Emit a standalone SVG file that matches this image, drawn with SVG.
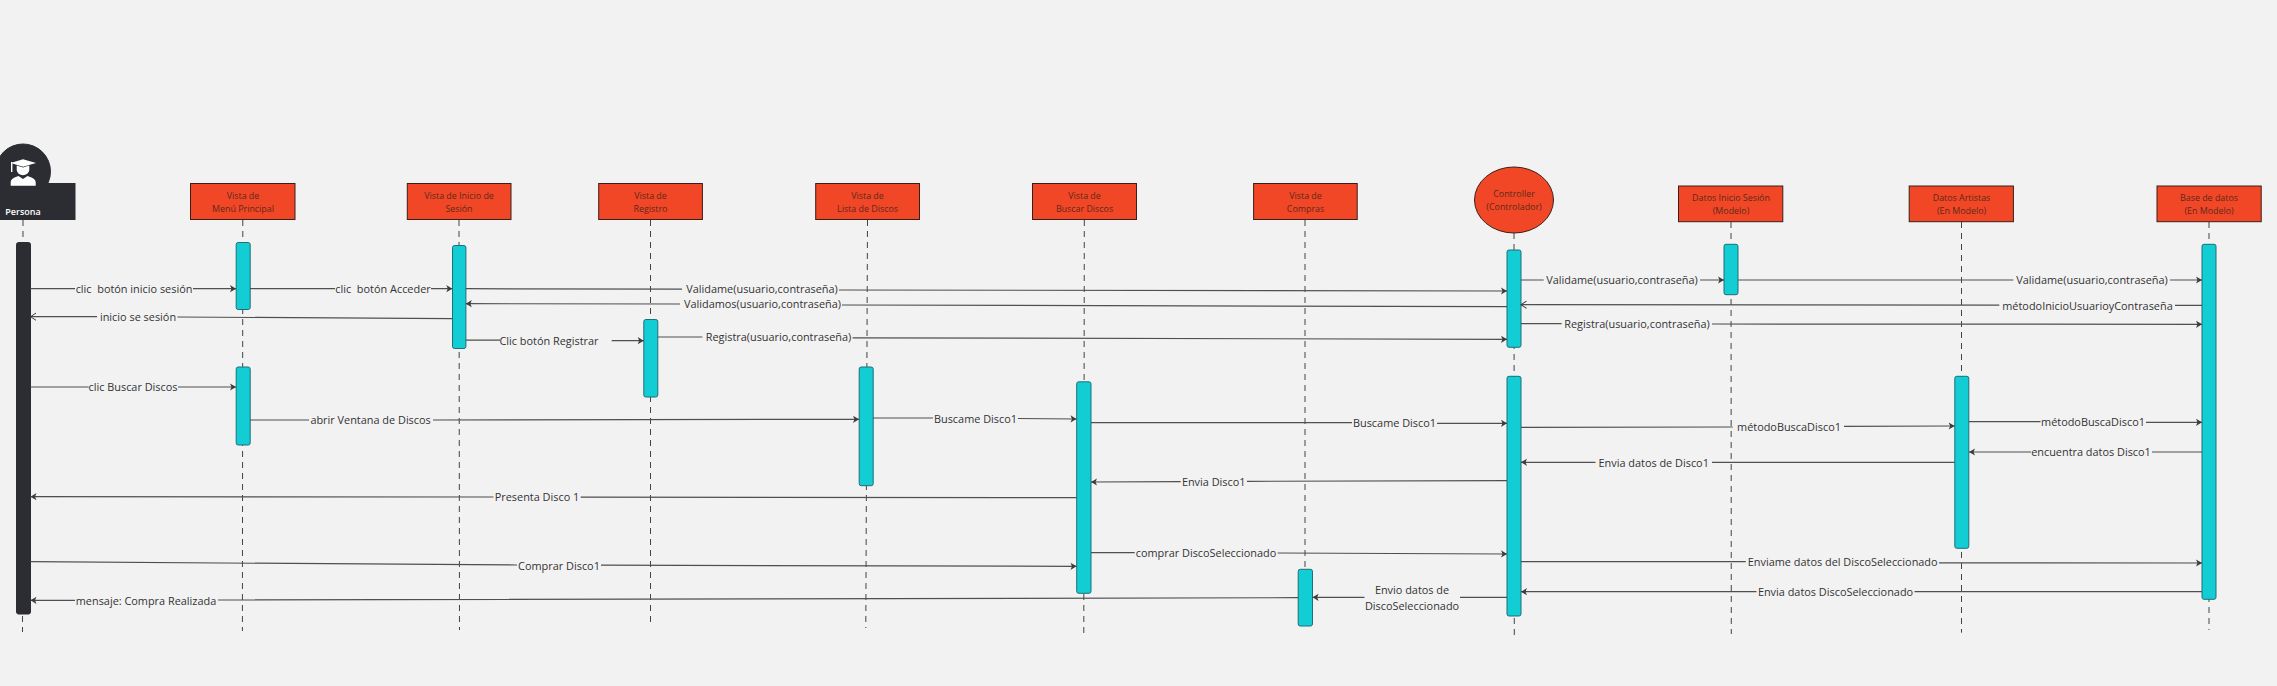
<svg xmlns="http://www.w3.org/2000/svg" width="2277" height="686" viewBox="0 0 2277 686">
<style>
text{font-family:"Open Sans","Noto Sans","Liberation Sans",sans-serif}
.bg{fill:#f2f2f2}
.box{fill:#f24726;stroke:#3a1f18;stroke-width:1}
.nt{font-size:8.9px;fill:#5a2a1c;text-anchor:middle}
.act{fill:#12cdd4;stroke:#1f6f78;stroke-width:1}
.dark{fill:#2b2d33;stroke:#2b2d33}
.life{stroke:#444;stroke-width:1;stroke-dasharray:6 5;fill:none}
.msg{fill:none;stroke:#4f4f4f;stroke-width:1.2}
.to{marker-end:url(#solid)}
.open{marker-end:url(#openh)}
.lb{font-size:10.9px;fill:#333;text-anchor:middle}
</style>
<defs>
<marker id="solid" markerUnits="userSpaceOnUse" markerWidth="8" markerHeight="10" viewBox="0 -5 8 10" refX="6.5" refY="0" orient="auto"><path d="M0.5,-3.6 L6.5,0 L0.5,3.6 L2,0Z" fill="#3c3c3c"/></marker>
<marker id="openh" markerUnits="userSpaceOnUse" markerWidth="8" markerHeight="10" viewBox="0 -5 8 10" refX="6.5" refY="0" orient="auto"><path d="M1,-3.6 L6.5,0 L1,3.6" fill="none" stroke="#3c3c3c" stroke-width="1"/></marker>
</defs>
<rect class="bg" x="0" y="0" width="2277" height="686"/>

<g id="persona">
<line class="life" x1="23" y1="220" x2="22.5" y2="632"/>
<rect class="dark" x="-2" y="183.5" width="77" height="36"/>
<circle class="dark" cx="23" cy="171.5" r="27.5"/>
<path fill="#fff" d="M23,159.3 L36,163 L23,166.8 L10.7,163Z"/>
<path fill="#fff" d="M16.7,165.5 L23,167.6 L29.3,165.5 L29.3,169.5 C29.3,173 26,175.2 23,175.2 C20,175.2 16.7,173 16.7,169.5Z"/>
<path fill="#fff" d="M10.7,185.8 L10.7,182 C10.7,179 15,177 18.5,176 L23,179 L27.5,176 C31,177 35.7,179 35.7,182 L35.7,185.8Z"/>
<rect fill="#fff" x="11" y="162" width="1.4" height="10"/>
<text x="23" y="215" font-size="9" font-weight="600" fill="#fff" text-anchor="middle">Persona</text>
<rect class="dark" x="16.5" y="242.5" width="14" height="371.5" rx="2"/>
</g>

<g id="vista-menu">
<line class="life" x1="242.8" y1="220" x2="242.4" y2="631"/>
<rect class="box" x="190.5" y="183.5" width="104.5" height="36"/>
<text class="nt" x="243" y="199">Vista de</text><text class="nt" x="243" y="212">Menú Principal</text>
<rect class="act" x="236.2" y="242.5" width="14" height="67" rx="2"/>
<rect class="act" x="236.2" y="367" width="14" height="78" rx="2"/>
</g>

<g id="vista-inicio">
<line class="life" x1="459" y1="220" x2="459.5" y2="630"/>
<rect class="box" x="407.3" y="183.5" width="103.7" height="36"/>
<text class="nt" x="459" y="199">Vista de Inicio de</text><text class="nt" x="459" y="212">Sesión</text>
<rect class="act" x="452.5" y="245.5" width="13.4" height="103" rx="2"/>
</g>

<g id="vista-registro">
<line class="life" x1="650.5" y1="220" x2="650.5" y2="627"/>
<rect class="box" x="598.7" y="183.5" width="103.7" height="36"/>
<text class="nt" x="650.5" y="199">Vista de</text><text class="nt" x="650.5" y="212">Registro</text>
<rect class="act" x="643.8" y="319.5" width="14" height="77.5" rx="2"/>
</g>

<g id="vista-lista">
<line class="life" x1="867.5" y1="220" x2="865.8" y2="628"/>
<rect class="box" x="815.7" y="183.5" width="103.8" height="36"/>
<text class="nt" x="867.5" y="199">Vista de</text><text class="nt" x="867.5" y="212">Lista de Discos</text>
<rect class="act" x="859.2" y="367" width="14" height="118.7" rx="2"/>
</g>

<g id="vista-buscar">
<line class="life" x1="1084.3" y1="220" x2="1083.8" y2="634"/>
<rect class="box" x="1032.5" y="183.5" width="104" height="36"/>
<text class="nt" x="1084.5" y="199">Vista de</text><text class="nt" x="1084.5" y="212">Buscar Discos</text>
<rect class="act" x="1076.7" y="381.8" width="14.3" height="211.5" rx="2"/>
</g>

<g id="vista-compras">
<line class="life" x1="1305" y1="220" x2="1305" y2="569"/>
<rect class="box" x="1253.6" y="183.5" width="103.6" height="36"/>
<text class="nt" x="1305.5" y="199">Vista de</text><text class="nt" x="1305.5" y="212">Compras</text>
<rect class="act" x="1298.2" y="569.3" width="14.3" height="56.7" rx="2"/>
</g>

<g id="controller">
<line class="life" x1="1514" y1="233" x2="1514.3" y2="640"/>
<ellipse class="box" cx="1514" cy="200" rx="39.5" ry="33"/>
<text class="nt" x="1514" y="197">Controller</text><text class="nt" x="1514" y="210">(Controlador)</text>
<rect class="act" x="1507" y="250" width="14" height="97.3" rx="2"/>
<rect class="act" x="1507" y="376.3" width="14" height="239.7" rx="2"/>
</g>

<g id="datos-inicio">
<line class="life" x1="1731" y1="222" x2="1731.3" y2="634"/>
<rect class="box" x="1678.5" y="186" width="104.3" height="35.7"/>
<text class="nt" x="1731" y="201">Datos Inicio Sesión</text><text class="nt" x="1731" y="214">(Modelo)</text>
<rect class="act" x="1724" y="244.3" width="14" height="50.4" rx="2"/>
</g>

<g id="datos-artistas">
<line class="life" x1="1961.5" y1="222" x2="1961.5" y2="632.7"/>
<rect class="box" x="1909.2" y="186" width="104.2" height="35.7"/>
<text class="nt" x="1961.5" y="201">Datos Artistas</text><text class="nt" x="1961.5" y="214">(En Modelo)</text>
<rect class="act" x="1954.8" y="376.3" width="14" height="172" rx="2"/>
</g>

<g id="base-datos">
<line class="life" x1="2209" y1="222" x2="2209" y2="630"/>
<rect class="box" x="2157" y="186" width="104.2" height="35.7"/>
<text class="nt" x="2209" y="201">Base de datos</text><text class="nt" x="2209" y="214">(En Modelo)</text>
<rect class="act" x="2202" y="244.3" width="14" height="355" rx="2"/>
</g>

<g id="connectors">
<path class="msg to" d="M30.5,288.7H75M193,288.7H236"/>
<text class="lb" x="134" y="293" xml:space="preserve">clic  botón inicio sesión</text>
<path class="msg to" d="M250,288.7H335M431,288.7H452.3"/>
<text class="lb" x="383" y="293" xml:space="preserve">clic  botón Acceder</text>
<path class="msg to" d="M465.8,288.7L682,289.2M839,290L1507,291"/>
<text class="lb" x="762" y="293">Validame(usuario,contraseña)</text>
<path class="msg to" d="M1507,306.7L842,305M680,304L465.8,303.7"/>
<text class="lb" x="762.5" y="308">Validamos(usuario,contraseña)</text>
<path class="msg open" d="M452.3,318.7L177.4,317M97,316.7L30.5,316.7"/>
<text class="lb" x="138" y="321">inicio se sesión</text>
<path class="msg to" d="M465.8,340.2H500M611.7,340.7H643.7"/>
<text class="lb" x="549" y="345">Clic botón Registrar</text>
<path class="msg to" d="M657.8,337H702.4M852.6,337.8L1507,339.3"/>
<text class="lb" x="778.5" y="341">Registra(usuario,contraseña)</text>
<path class="msg to" d="M30.5,387H88.7M178,387H236"/>
<text class="lb" x="133" y="391">clic Buscar Discos</text>
<path class="msg to" d="M250,420H309M433,420L859,419.3"/>
<text class="lb" x="370.6" y="424">abrir Ventana de Discos</text>
<path class="msg to" d="M873,418H933M1018,418.5L1076.5,419"/>
<text class="lb" x="975.5" y="423">Buscame Disco1</text>
<path class="msg to" d="M1091,422.7H1352M1437,423.3H1507"/>
<text class="lb" x="1394.5" y="427">Buscame Disco1</text>
<path class="msg to" d="M1521,427.3L1732.7,427M1844,426.3L1954.7,426"/>
<text class="lb" x="1789" y="431">métodoBuscaDisco1</text>
<path class="msg to" d="M1969,421.7H2040.5M2146,422.3H2202"/>
<text class="lb" x="2093" y="426">métodoBuscaDisco1</text>
<path class="msg to" d="M2202,452H2152M2031,452H1969"/>
<text class="lb" x="2091" y="456">encuentra datos Disco1</text>
<path class="msg to" d="M1954.7,462.3H1712M1595.5,462.3H1521"/>
<text class="lb" x="1653.7" y="467">Envia datos de Disco1</text>
<path class="msg to" d="M1507,480.7L1247,481.3M1180.7,481.7L1091,482"/>
<text class="lb" x="1213.7" y="486">Envia Disco1</text>
<path class="msg to" d="M1076.5,497.7L580.7,497.2M493.5,497L30.5,496.7"/>
<text class="lb" x="537" y="501">Presenta Disco 1</text>
<path class="msg to" d="M30.5,561.7L517,565M601,565.2L1076.5,566.3"/>
<text class="lb" x="559" y="570">Comprar Disco1</text>
<path class="msg to" d="M1091,552.7H1134.7M1277.7,553L1507,554"/>
<text class="lb" x="1206" y="557">comprar DiscoSeleccionado</text>
<path class="msg to" d="M1521,561.7H1745.8M1939,562.8L2202,563"/>
<text class="lb" x="1842.7" y="566">Enviame datos del DiscoSeleccionado</text>
<path class="msg to" d="M2202,591.7H1914.5M1756.5,591.7H1521"/>
<text class="lb" x="1835.5" y="596">Envia datos DiscoSeleccionado</text>
<path class="msg to" d="M1507,597.3H1460M1364.5,597.3H1312.6"/>
<text class="lb" x="1412" y="594">Envio datos de</text>
<text class="lb" x="1412" y="610">DiscoSeleccionado</text>
<path class="msg to" d="M1298,597.7L218,600M75,600.3H30.5"/>
<text class="lb" x="146" y="605">mensaje: Compra Realizada</text>
<path class="msg open" d="M2202,305.3H2175M1999.3,305.2L1521,304.7"/>
<text class="lb" x="2087.5" y="310">métodoInicioUsuarioyContraseña</text>
<path class="msg to" d="M1521,280H1543.7M1700,280H1724"/>
<text class="lb" x="1622" y="284">Validame(usuario,contraseña)</text>
<path class="msg to" d="M1738,280H2013.4M2170,280H2202"/>
<text class="lb" x="2092" y="284">Validame(usuario,contraseña)</text>
<path class="msg to" d="M1521,323.7H1561.6M1712,324L2202,324.3"/>
<text class="lb" x="1637" y="328">Registra(usuario,contraseña)</text>
</g>
</svg>
